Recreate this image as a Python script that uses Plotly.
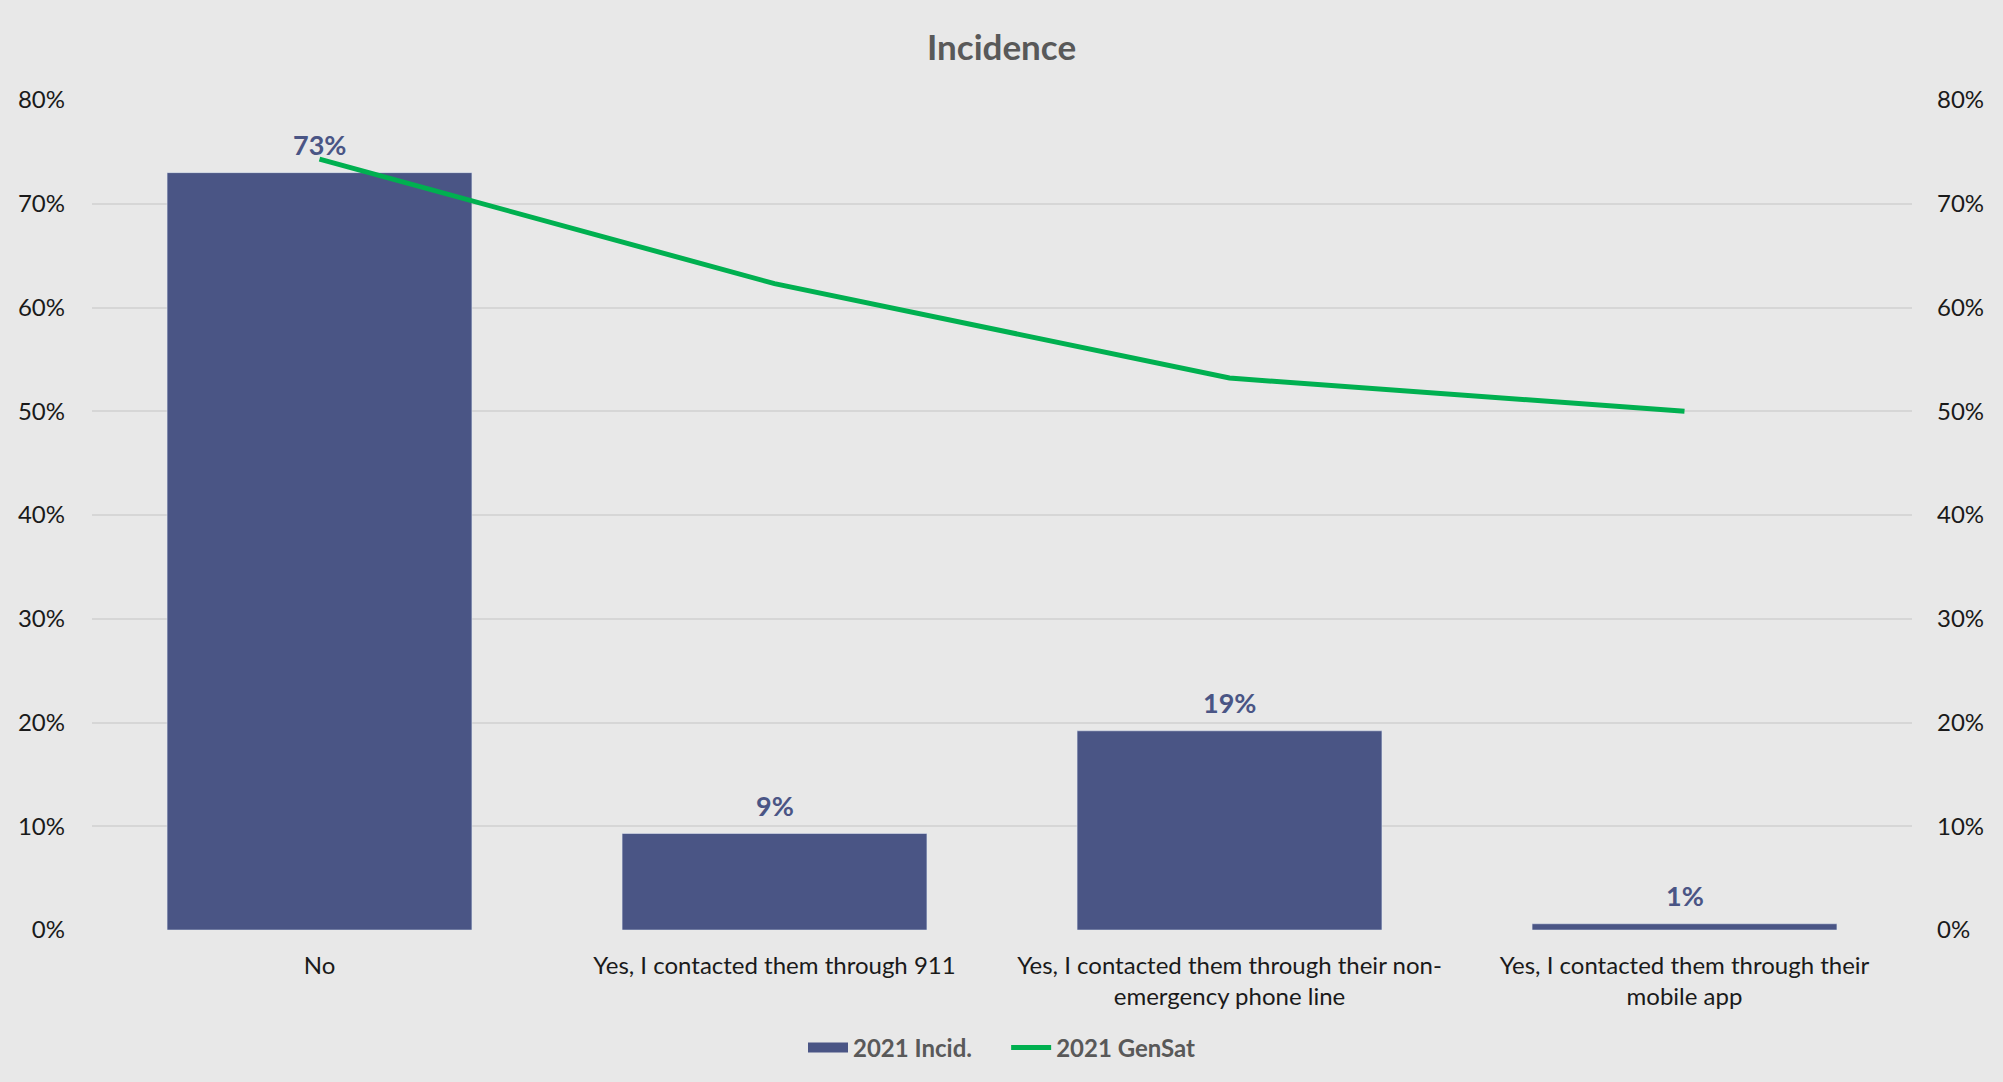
import plotly.graph_objects as go

categories = ["No", "Yes, I contacted them through 911",
              "Yes, I contacted them through their non-<br>emergency phone line",
              "Yes, I contacted them through their<br>mobile app"]
incid_2021 = [0.73, 0.093, 0.192, 0.006]
gensat_2021 = [0.743, 0.623, 0.532, 0.500]
tick_vals = [0, 0.1, 0.2, 0.3, 0.4, 0.5, 0.6, 0.7, 0.8]
series_names = ["2021 Incid.", "2021 GenSat"]

FONT = "Lato"
BAR = "#4a5585"
GREEN = "#00b050"
GREY = "#595959"
PAD = "\u00a0" * 5

fig = go.Figure()
fig.add_trace(go.Bar(
    x=categories, y=incid_2021, name=series_names[0],
    marker=dict(color=BAR), showlegend=False,
))
# legend-only entry giving the wide rectangular swatch
fig.add_trace(go.Scatter(
    x=[None], y=[None], name=series_names[0] + PAD, mode="lines",
    line=dict(color=BAR, width=15),
))
fig.add_trace(go.Scatter(
    x=categories, y=gensat_2021, name=series_names[1], yaxis="y2",
    mode="lines", line=dict(color=GREEN, width=5),
))

for c, v in zip(categories, incid_2021):
    fig.add_annotation(
        x=c, y=v, text=f"<b>{v:.0%}</b>", showarrow=False,
        yanchor="bottom", yshift=10,
        font=dict(family=FONT, size=27, color=BAR),
    )

fig.update_layout(
    width=2003, height=1082,
    paper_bgcolor="#e8e8e8", plot_bgcolor="#e8e8e8",
    margin=dict(l=92, r=91, t=100, b=145),
    bargap=0.33,
    font=dict(family=FONT, size=24, color="#1a1a1a"),
    title=dict(text="<b>Incidence</b>", x=0.5, xanchor="center", y=0.956, yanchor="middle",
               font=dict(family=FONT, size=35, color=GREY)),
    xaxis=dict(showgrid=False, showline=False, ticks="", tickfont=dict(size=24),
               ticklabelstandoff=19),
    yaxis=dict(range=[0, 0.8], tickvals=tick_vals, tickformat=".0%",
               gridcolor="#d6d6d6", gridwidth=1.5, zeroline=False,
               ticklabelstandoff=26, tickfont=dict(size=24)),
    yaxis2=dict(range=[0, 0.8], tickvals=tick_vals, tickformat=".0%",
                overlaying="y", side="right", showgrid=False, zeroline=False,
                ticklabelstandoff=24, tickfont=dict(size=24)),
    legend=dict(orientation="h", x=0.5, xanchor="center", y=-0.115, yanchor="top",
                font=dict(family=FONT, size=24, color=GREY, weight="bold"),
                bgcolor="rgba(0,0,0,0)", itemwidth=40, traceorder="normal"),
    showlegend=True,
)

fig.write_html("out.html")
